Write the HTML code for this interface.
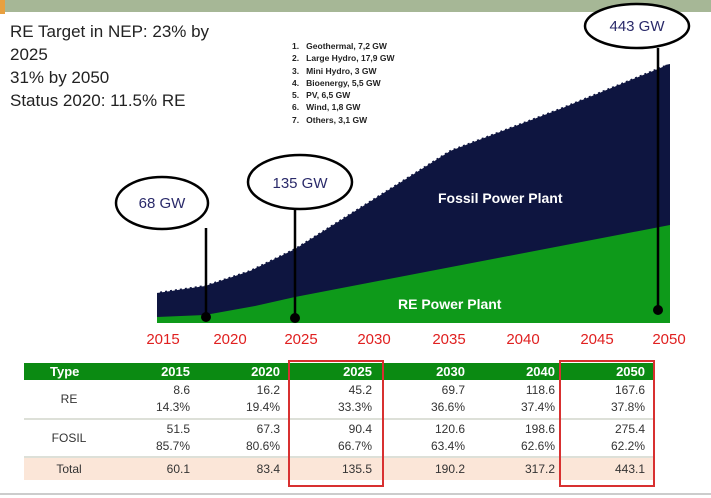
<!DOCTYPE html>
<html><head><meta charset="utf-8"><style>
body{margin:0;width:711px;height:498px;background:#fff;overflow:hidden;position:relative;font-family:"Liberation Sans",sans-serif}
.t{position:absolute}
table{position:absolute;left:24px;top:363px;width:629px;border-collapse:collapse;table-layout:fixed;font-family:"Liberation Sans Narrow","Liberation Sans",sans-serif;font-size:12px;color:#333}
td{text-align:right;padding:0 8px 0 0}
td:first-child{text-align:center;padding:0}
</style></head><body>
<div class="t" style="left:0;top:0;width:711px;height:12px;background:#a6b796"></div>
<div class="t" style="left:0;top:0;width:5px;height:14px;background:#e8a040"></div>
<div class="t" style="left:10px;top:20px;font-size:17px;line-height:23px;color:#222">RE Target in NEP: 23% by<br>2025<br>31% by 2050<br>Status 2020: 11.5% RE</div>
<div class="t" style="left:292px;top:40px;font-size:8.5px;line-height:12.3px;color:#222;font-weight:bold">
<div>1.&nbsp;&nbsp; Geothermal, 7,2 GW</div><div>2.&nbsp;&nbsp; Large Hydro, 17,9 GW</div><div>3.&nbsp;&nbsp; Mini Hydro, 3 GW</div><div>4.&nbsp;&nbsp; Bioenergy, 5,5 GW</div><div>5.&nbsp;&nbsp; PV, 6,5 GW</div><div>6.&nbsp;&nbsp; Wind, 1,8 GW</div><div>7.&nbsp;&nbsp; Others, 3,1 GW</div></div>
<svg class="t" style="left:0;top:0" width="711" height="360">
<path d="M157,292 L205,285 L250,270 L295,248 L450,150 L560,108 L665,65 L670,64 L670,323 L157,323Z" fill="#0e1540"/>
<path d="M157,292 L205,285 L250,270 L295,248 L450,150 L560,108 L665,65" fill="none" stroke="#fff" stroke-width="2" stroke-dasharray="3 2"/>
<path d="M157,317 L205,315 L255,306 L295,297 L670,225 L670,323 L157,323Z" fill="#0e9a1a"/>
<text x="438" y="203" fill="#fff" font-size="14" font-weight="bold">Fossil Power Plant</text>
<text x="398" y="309" fill="#fff" font-size="14" font-weight="bold">RE Power Plant</text>
<g stroke="#000" stroke-width="2.5"><line x1="206" y1="228" x2="206" y2="317"/><line x1="295" y1="208" x2="295" y2="318"/><line x1="658" y1="48" x2="658" y2="310"/></g>
<g fill="#000"><circle cx="206" cy="317" r="5"/><circle cx="295" cy="318" r="5"/><circle cx="658" cy="310" r="5"/></g>
<g fill="#fff" stroke="#000" stroke-width="2.5"><ellipse cx="162" cy="203" rx="46" ry="26"/><ellipse cx="300" cy="182" rx="52" ry="27"/><ellipse cx="637" cy="26" rx="52" ry="22"/></g>
<g fill="#2a2a6a" font-size="15" text-anchor="middle"><text x="162" y="208">68 GW</text><text x="300" y="188">135 GW</text><text x="637" y="31">443 GW</text></g>
<g fill="#e02020" font-size="15" text-anchor="middle"><text x="163" y="344">2015</text><text x="230" y="344">2020</text><text x="301" y="344">2025</text><text x="374" y="344">2030</text><text x="449" y="344">2035</text><text x="523" y="344">2040</text><text x="597" y="344">2045</text><text x="669" y="344">2050</text></g>
</svg>
<table>
<colgroup><col style="width:90px"><col style="width:84px"><col style="width:90px"><col style="width:92px"><col style="width:93px"><col style="width:90px"><col style="width:90px"></colgroup>
<tr style="background:#0b8a12;color:#fff;font-weight:bold;font-size:13px;height:17px"><td style="text-align:left;padding-left:26px">Type</td><td>2015</td><td>2020</td><td>2025</td><td>2030</td><td>2040</td><td>2050</td></tr>
<tr style="height:39px;line-height:17px;border-bottom:2px solid #dde0d8"><td>RE</td><td>8.6<br>14.3%</td><td>16.2<br>19.4%</td><td>45.2<br>33.3%</td><td>69.7<br>36.6%</td><td>118.6<br>37.4%</td><td>167.6<br>37.8%</td></tr>
<tr style="height:38px;line-height:17px;border-bottom:2px solid #dde0d8"><td>FOSIL</td><td>51.5<br>85.7%</td><td>67.3<br>80.6%</td><td>90.4<br>66.7%</td><td>120.6<br>63.4%</td><td>198.6<br>62.6%</td><td>275.4<br>62.2%</td></tr>
<tr style="height:23px;background:#fbe6d8"><td>Total</td><td>60.1</td><td>83.4</td><td>135.5</td><td>190.2</td><td>317.2</td><td>443.1</td></tr>
</table>
<div class="t" style="left:288px;top:360px;width:92px;height:123px;border:2px solid #d83030"></div>
<div class="t" style="left:559px;top:360px;width:92px;height:123px;border:2px solid #d83030"></div>
<div class="t" style="left:0;top:493px;width:711px;height:2px;background:#ccc"></div>
</body></html>
